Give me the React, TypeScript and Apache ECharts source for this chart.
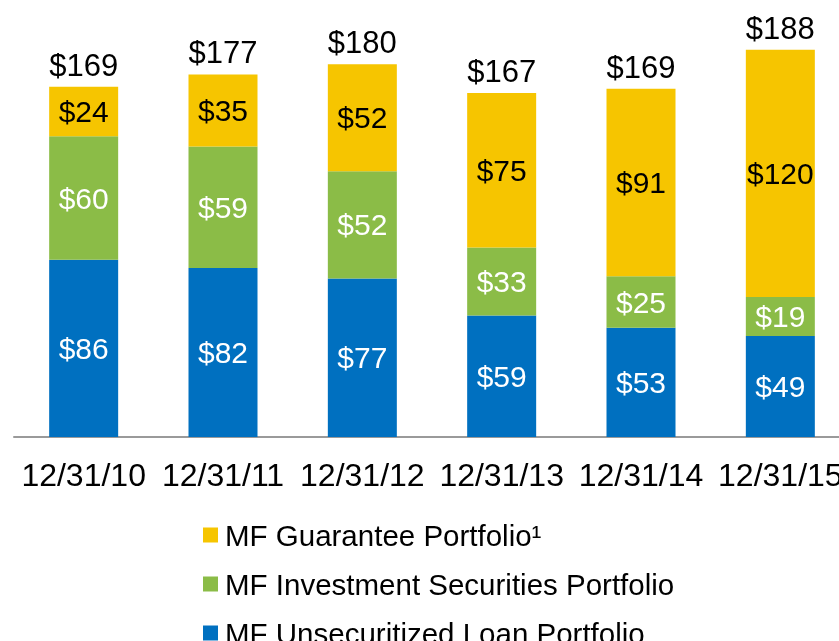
import React, { useEffect, useRef } from "react";
import * as echarts from "echarts";

const categories = ["12/31/10", "12/31/11", "12/31/12", "12/31/13", "12/31/14", "12/31/15"];
const loanValues = [86, 82, 77, 59, 53, 49];
const securitiesValues = [60, 59, 52, 33, 25, 19];
const guaranteeValues = [24, 35, 52, 75, 91, 120];
const totals = [169, 177, 180, 167, 169, 188];

const seriesNames = [
  "MF Unsecuritized Loan Portfolio",
  "MF Investment Securities Portfolio",
  "MF Guarantee Portfolio\u00B9",
];

const FONT = "Liberation Sans, Arial, sans-serif";

export default function App() {
  const ref = useRef<HTMLDivElement>(null);
  useEffect(() => {
    if (!ref.current) return;
    const chart = echarts.init(ref.current, undefined, { renderer: "svg" });
    const labelBase = { show: true, position: "inside", fontSize: 30, fontFamily: FONT, formatter: "${c}" };
    chart.setOption({
      animation: false,
      textStyle: { fontFamily: FONT },
      grid: { left: 14, top: 25, width: 836, height: 412, containLabel: false },
      xAxis: {
        type: "category",
        data: categories,
        axisLine: { show: true, lineStyle: { color: "#9a9a9a", width: 2 } },
        axisTick: { show: false },
        axisLabel: { color: "#000", fontSize: 32, fontFamily: FONT, margin: 22, interval: 0 },
      },
      yAxis: { type: "value", min: 0, max: 200, show: false, splitLine: { show: false } },
      legend: {
        orient: "vertical",
        left: 203,
        top: 520,
        padding: 0,
        itemWidth: 15,
        itemHeight: 15,
        itemGap: 19,
        icon: "rect",
        data: [seriesNames[2], seriesNames[1], seriesNames[0]],
        textStyle: { fontSize: 29.5, color: "#000", fontFamily: FONT, lineHeight: 30, padding: [0, 0, 0, 2] },
      },
      series: [
        {
          name: seriesNames[0],
          type: "bar",
          stack: "total",
          barWidth: 69,
          data: loanValues,
          itemStyle: { color: "#0070C0" },
          label: { ...labelBase, color: "#fff" },
        },
        {
          name: seriesNames[1],
          type: "bar",
          stack: "total",
          data: securitiesValues,
          itemStyle: { color: "#8BBC47" },
          label: { ...labelBase, color: "#fff" },
        },
        {
          name: seriesNames[2],
          type: "bar",
          stack: "total",
          data: guaranteeValues,
          itemStyle: { color: "#F6C500" },
          label: { ...labelBase, color: "#000" },
        },
        {
          name: "Total",
          type: "bar",
          stack: "total",
          data: totals.map(() => 0),
          itemStyle: { color: "transparent" },
          label: {
            show: true,
            position: "top",
            distance: 6,
            fontSize: 31,
            fontFamily: FONT,
            color: "#000",
            formatter: (p: any) => "$" + totals[p.dataIndex],
          },
        },
      ],
    });
    return () => chart.dispose();
  }, []);
  return (
    <div style={{ position: "fixed", left: 0, top: 0, width: 839, height: 641, overflow: "hidden" }}>
      <div ref={ref} style={{ width: 880, height: 720 }} />
    </div>
  );
}
